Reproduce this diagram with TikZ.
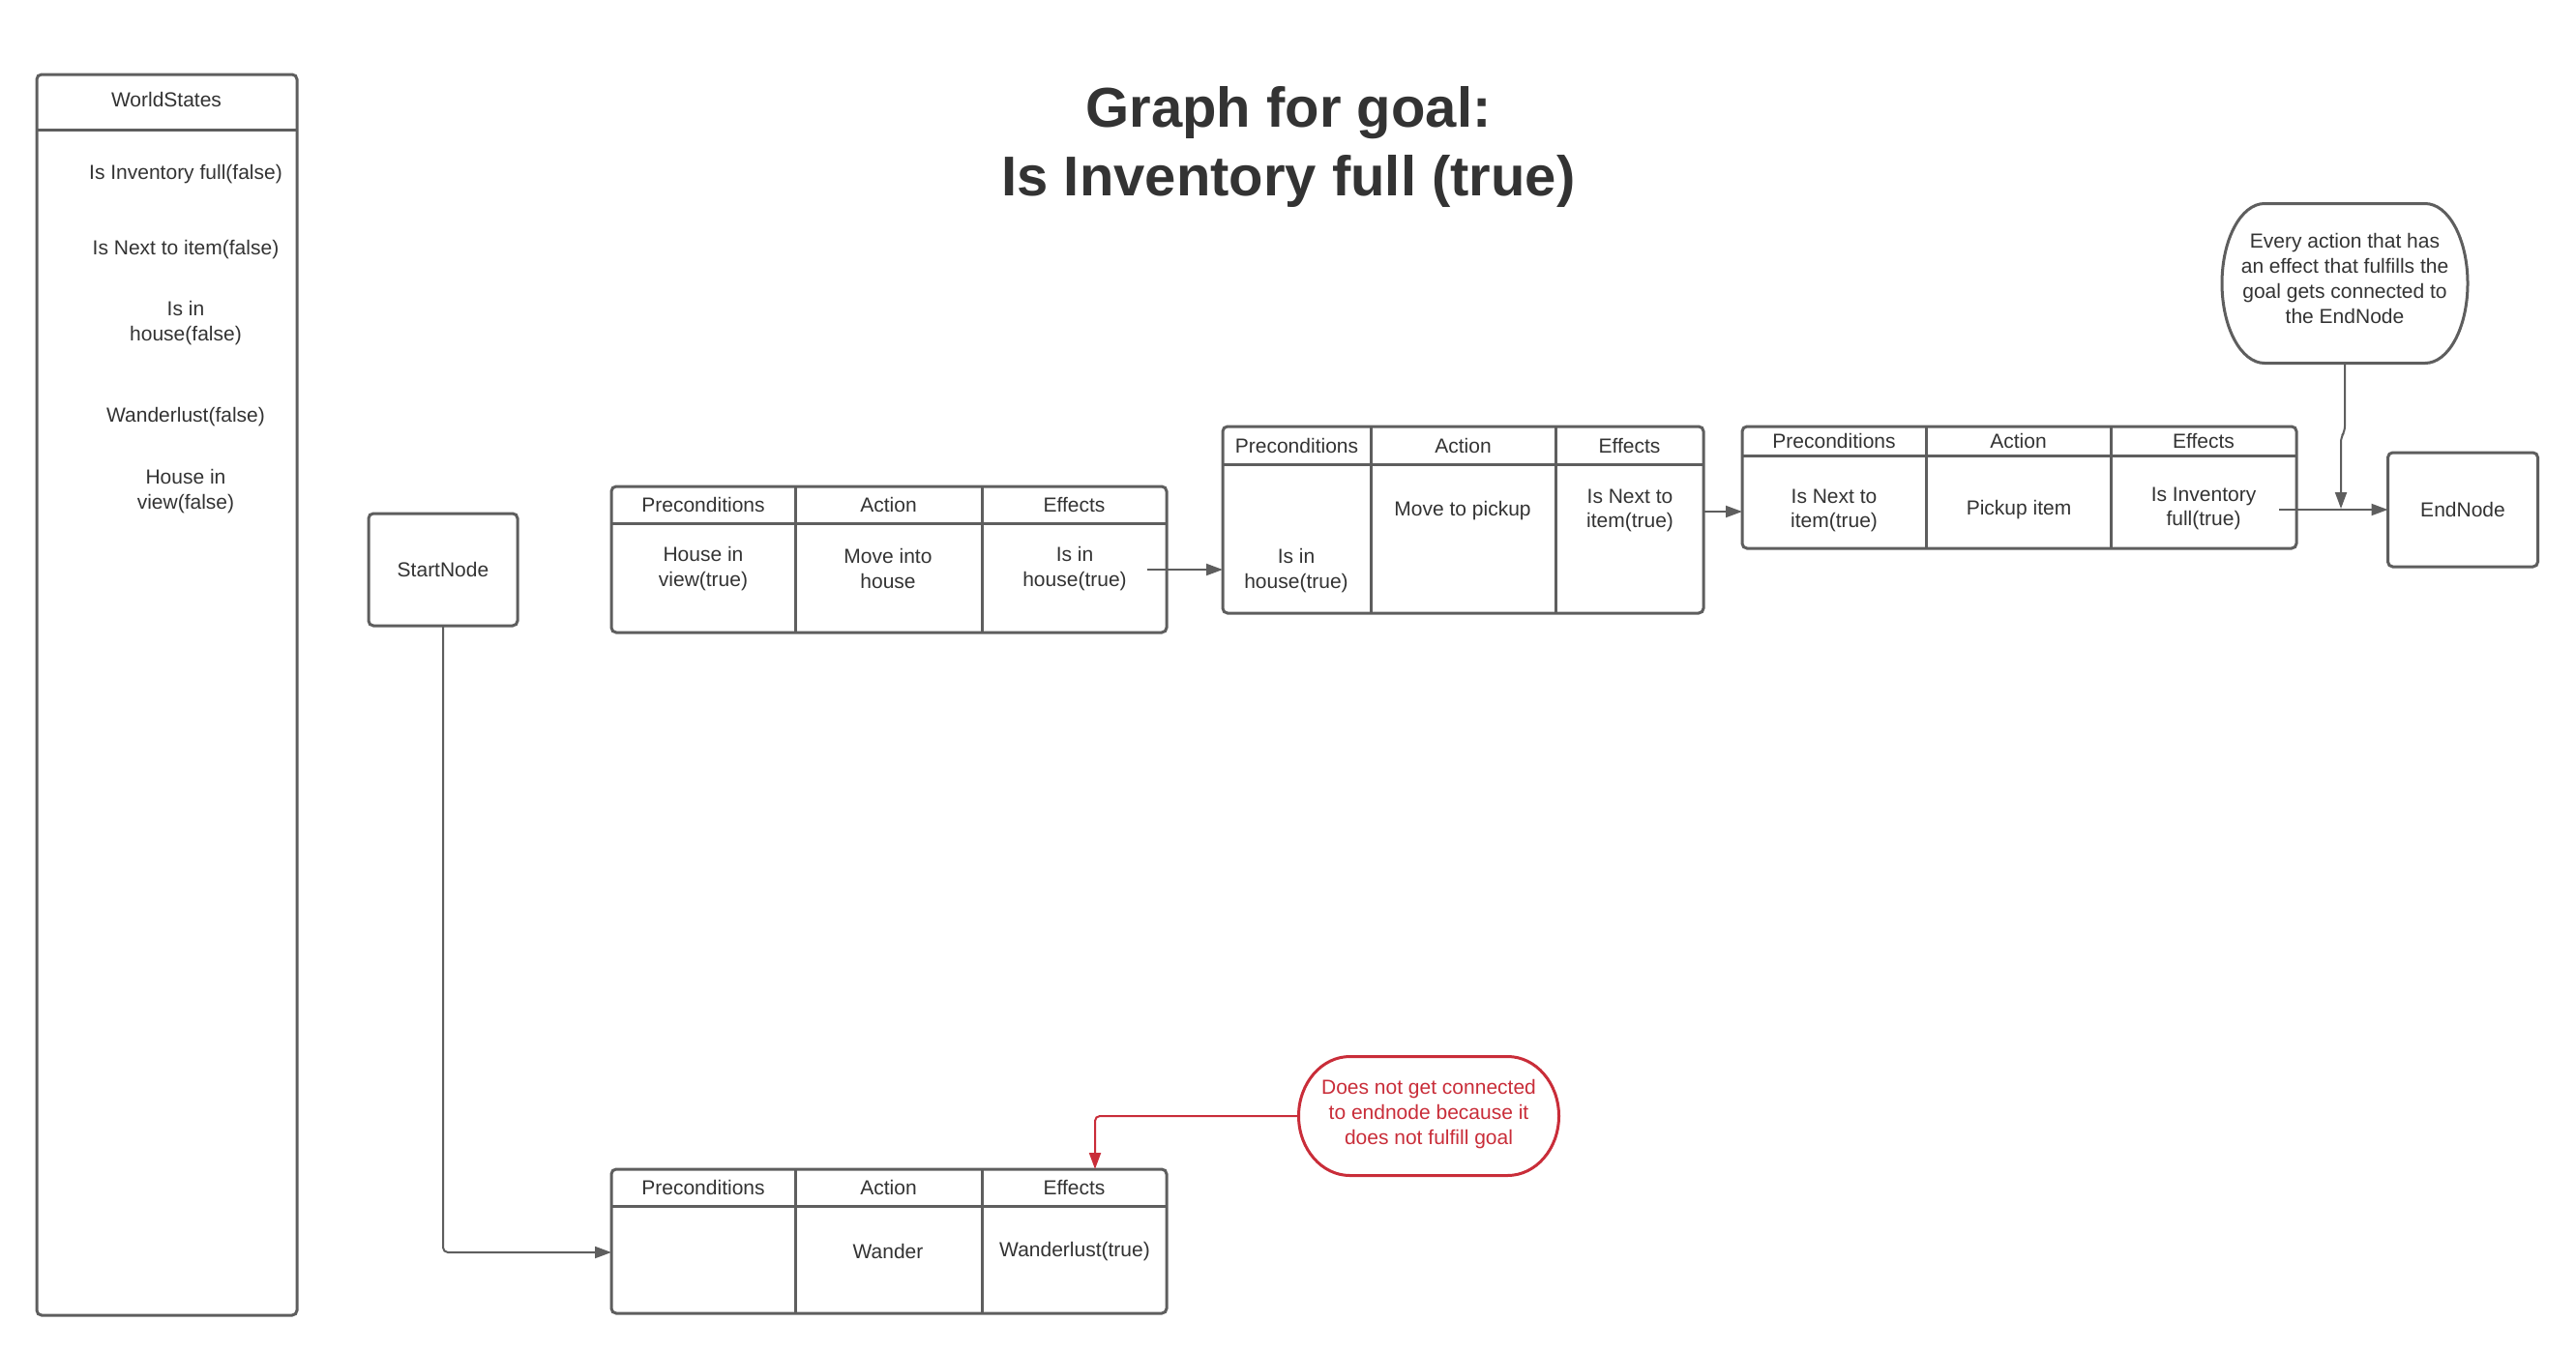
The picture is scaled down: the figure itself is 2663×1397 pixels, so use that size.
\documentclass[tikz,border=0pt]{standalone}
\usepackage{fontspec}
\setmainfont{Liberation Sans}
\usetikzlibrary{arrows.meta,calc}
\definecolor{lgrey}{HTML}{5E5E5E}
\definecolor{tgrey}{HTML}{333333}
\definecolor{lred}{HTML}{C92D39}
\newcommand\bodyfnt{\fontsize{21}{25.7}\selectfont}
\newcommand\titlefnt{\fontsize{58}{70}\selectfont\bfseries}
\newcommand\gtable[8]{%
  \node[tblframe, minimum width={(#4-#2)*1pt}, minimum height={(#5-#3)*1pt}] (#1) at (#2,#3) {};
  \draw[lin] (#2,#6) -- (#4,#6);
  \draw[lin] (#7,#3) -- (#7,#5);
  \draw[lin] (#8,#3) -- (#8,#5);
  \node[txt] (#1h1) at ({(#2+#7)/2},{(#3+#6)/2}) {Preconditions};
  \node[txt] (#1h2) at ({(#7+#8)/2},{(#3+#6)/2}) {Action};
  \node[txt] (#1h3) at ({(#8+#4)/2},{(#3+#6)/2}) {Effects};
}
\newcommand\stadium[4]{%
  \draw[#4] ([xshift=#2]#1.north west) -- ([xshift=-#2]#1.north east)
    arc[start angle=90,end angle=-90,x radius=#2,y radius=#3]
    -- ([xshift=#2]#1.south west)
    arc[start angle=270,end angle=90,x radius=#2,y radius=#3] -- cycle;
}
\begin{document}
\begin{tikzpicture}[x=1pt,y=-1pt,
  lin/.style={draw=lgrey, line width=3pt},
  tblframe/.style={draw=lgrey, line width=3pt, rounded corners=5pt, outer sep=0pt, inner sep=0pt, anchor=north west},
  boxnode/.style={draw=lgrey, line width=3pt, rounded corners=5pt, outer sep=0pt, inner sep=0pt, text=tgrey, font=\bodyfnt, align=center},
  txt/.style={text=tgrey, font=\bodyfnt, align=center, inner sep=0pt},
  conn/.style={draw=lgrey, line width=2pt, rounded corners=5pt, -{Triangle[length=17pt,width=12pt]}},
  redconn/.style={draw=lred, line width=2pt, rounded corners=5pt, -{Triangle[length=17pt,width=12pt]}},
  noteshape/.style={inner sep=0pt, outer sep=0pt},
]
\fill[white] (0,0) rectangle (2663,1397);
\useasboundingbox (0,0) rectangle (2663,1397);

% title
\node[text=tgrey, font=\titlefnt, anchor=base] (title1) at (1332,131) {Graph for goal:};
\node[text=tgrey, font=\titlefnt, anchor=base] (title2) at (1332,202) {Is Inventory full (true)};

% world states
\node[tblframe, minimum width=269pt, minimum height=1283pt] (ws) at (38,77) {};
\draw[lin] (38,134) -- (307,134);
\node[txt] (wsh) at (172,103) {WorldStates};
\node[txt] (ws1) at (192,180) {Is Inventory full(false)};
\node[txt] (ws2) at (192,258) {Is Next to item(false)};
\node[txt] (ws3) at (192,334) {Is in\\house(false)};
\node[txt] (ws4) at (192,431) {Wanderlust(false)};
\node[txt] (ws5) at (192,508) {House in\\view(false)};

% start / end nodes
\node[boxnode, minimum width=154pt, minimum height=116pt] (start) at (458,589) {StartNode};
\node[boxnode, minimum width=155pt, minimum height=118pt] (endn) at (2546,527) {EndNode};

% tables
\gtable{t1}{632}{503}{1206}{654}{541}{822}{1015}
\node[txt] (t1p) at (727,588) {House in\\view(true)};
\node[txt] (t1a) at (918,588) {Move into\\house};
\node[txt] (t1e) at (1111,588) {Is in\\house(true)};

\gtable{t2}{1264}{441}{1761}{634}{480}{1417}{1608}
\node[txt] (t2p) at (1340,590) {Is in\\house(true)};
\node[txt] (t2a) at (1512,528) {Move to pickup};
\node[txt] (t2e) at (1685,528) {Is Next to\\item(true)};

\gtable{t3}{1801}{441}{2374}{567}{471}{1991}{2182}
\node[txt] (t3p) at (1896,528) {Is Next to\\item(true)};
\node[txt] (t3a) at (2087,527) {Pickup item};
\node[txt] (t3e) at (2278,526) {Is Inventory\\full(true)};

\gtable{t4}{632}{1209}{1206}{1358}{1247}{822}{1015}
\node[txt] (t4a) at (918,1294) {Wander};
\node[txt] (t4e) at (1111,1294) {Wanderlust(true)};

% notes
\node[noteshape, minimum width=254pt, minimum height=165pt] (note1) at (2424,293) {};
\stadium{note1}{44pt}{82.5pt}{draw=lgrey, line width=3pt}
\node[txt] (note1t) at (2424,288) {Every action that has\\an effect that fulfills the\\goal gets connected to\\the EndNode};
\node[noteshape, minimum width=269pt, minimum height=123pt] (note2) at (1477,1154) {};
\stadium{note2}{53pt}{61.5pt}{draw=lred, line width=3pt}
\node[txt, text=lred] (note2t) at (1477,1152) {Does not get connected\\to endnode because it\\does not fulfill goal};

% connectors
\coordinate (in4) at (632,1295);
\draw[conn] (start.south) |- (in4);
\coordinate (o1) at (1186,589);
\draw[conn] (o1) -- (o1 -| t2.west);
\coordinate (o2) at (1761,529);
\draw[conn] (o2) -- (o2 -| t3.west);
\coordinate (o3) at (2356,527);
\draw[conn] (o3) -- (o3 -| endn.west);
\coordinate (hit) at (2420,526);
\draw[conn] (note1.south) -- (2424,446) -- (2420,452) -- (hit);
\coordinate (rt) at (1132,1209);
\draw[redconn] (note2.west) -| (rt);
\end{tikzpicture}
\end{document}
